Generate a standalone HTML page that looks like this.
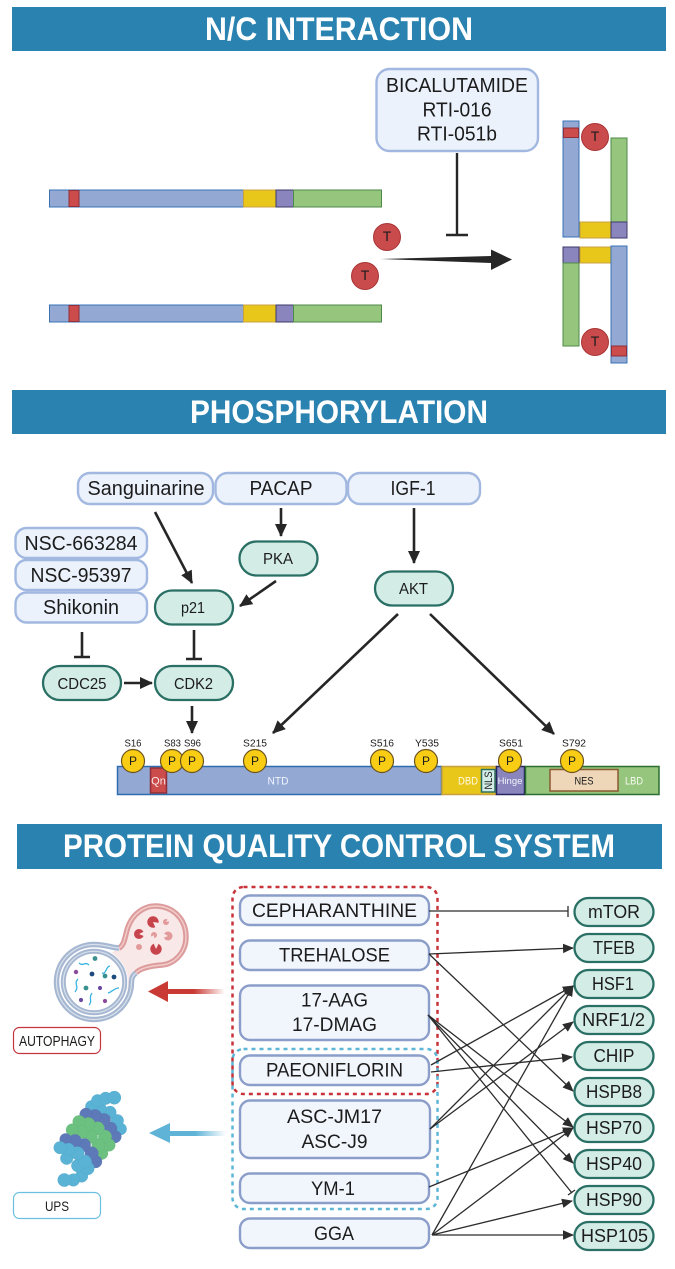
<!DOCTYPE html>
<html>
<head>
<meta charset="utf-8">
<style>
html,body{margin:0;padding:0;background:#fff}
svg{display:block}
text{font-family:"Liberation Sans",sans-serif;fill:#1c1c1c;text-anchor:middle}
.h{font-weight:bold;font-size:32px;fill:#fff}
.b{fill:#ebf2fc;stroke:#a2b8e0;stroke-width:2.400}
.c{fill:#f1f5fc;stroke:#8b9dc9;stroke-width:2.400}
.p{fill:#d3ece6;stroke:#2a6f64;stroke-width:2.300}
.l{stroke:#262626;stroke-width:2.600;fill:none}
.n{stroke:#2c2c2c;stroke-width:1.300;fill:none}
.pc{fill:#f8cd14;stroke:#6b5320;stroke-width:1.200}
.tc{fill:#c94b4b;stroke:#a83434;stroke-width:1}
.t{fill:#5ab2d4;stroke:#4a9fc4;stroke-width:.6}
.d{fill:#5e79b8;stroke:#4e68a8;stroke-width:.6}
.g{fill:#6cc080;stroke:#5cb070;stroke-width:.6}
</style>
</head>
<body>
<svg width="675" height="1269" viewBox="0 0 675 1269" xmlns="http://www.w3.org/2000/svg">
<defs>
<marker id="a" markerUnits="userSpaceOnUse" markerWidth="14" markerHeight="14" refX="12" refY="7" orient="auto"><path d="M0 1L13 7L0 13Z" fill="#262626"/></marker>
<marker id="s" markerUnits="userSpaceOnUse" markerWidth="12" markerHeight="11" refX="10" refY="5.500" orient="auto"><path d="M0 .8L11 5.500L0 10.200Z" fill="#2c2c2c"/></marker>
<linearGradient id="rg" x1="0" x2="1" y1="0" y2="0"><stop offset="0" stop-color="#c83a33"/><stop offset=".45" stop-color="#c83a33"/><stop offset="1" stop-color="#c83a33" stop-opacity="0"/></linearGradient>
<linearGradient id="bg" x1="0" x2="1" y1="0" y2="0"><stop offset="0" stop-color="#5fb3d6"/><stop offset=".45" stop-color="#5fb3d6"/><stop offset="1" stop-color="#5fb3d6" stop-opacity="0"/></linearGradient>
</defs>

<!-- Headers -->
<rect x="12" y="7" width="654" height="44" fill="#2a82b0"/>
<text class="h" x="339" y="40" textLength="268" lengthAdjust="spacingAndGlyphs">N/C INTERACTION</text>
<rect x="12" y="390" width="654" height="44" fill="#2a82b0"/>
<text class="h" x="339" y="423" textLength="298" lengthAdjust="spacingAndGlyphs">PHOSPHORYLATION</text>
<rect x="17" y="824" width="645" height="45" fill="#2a82b0"/>
<text class="h" x="339" y="857" textLength="552" lengthAdjust="spacingAndGlyphs">PROTEIN QUALITY CONTROL SYSTEM</text>

<!-- N/C bars -->
<g stroke-width="1">
<rect x="49.500" y="190" width="194" height="17" fill="#93a9d4" stroke="#3a72b4"/>
<rect x="69" y="190.500" width="10" height="16" fill="#cc4b4b" stroke="#8e2f3a"/>
<rect x="243.500" y="190" width="33" height="17" fill="#e8c61a" stroke="#c8a040"/>
<rect x="276" y="190" width="17.500" height="17" fill="#8a86bd" stroke="#3d3a6a"/>
<rect x="293.500" y="190" width="88" height="17" fill="#96c57e" stroke="#4d8a48"/>
<rect x="49.500" y="305" width="194" height="17" fill="#93a9d4" stroke="#3a72b4"/>
<rect x="69" y="305.500" width="10" height="16" fill="#cc4b4b" stroke="#8e2f3a"/>
<rect x="243.500" y="305" width="33" height="17" fill="#e8c61a" stroke="#c8a040"/>
<rect x="276" y="305" width="17.500" height="17" fill="#8a86bd" stroke="#3d3a6a"/>
<rect x="293.500" y="305" width="88" height="17" fill="#96c57e" stroke="#4d8a48"/>
<!-- right upper -->
<rect x="563" y="121" width="16" height="116" fill="#93a9d4" stroke="#3a72b4"/>
<rect x="563.500" y="128" width="15" height="9.500" fill="#cc4b4b" stroke="#8e2f3a"/>
<rect x="611" y="138" width="16" height="84" fill="#96c57e" stroke="#4d8a48"/>
<rect x="580" y="222" width="31" height="16" fill="#e8c61a" stroke="#c8a040"/>
<rect x="611" y="222" width="16" height="16" fill="#8a86bd" stroke="#3d3a6a"/>
<!-- right lower -->
<rect x="563" y="247" width="16" height="16" fill="#8a86bd" stroke="#3d3a6a"/>
<rect x="580" y="247" width="31" height="16" fill="#e8c61a" stroke="#c8a040"/>
<rect x="611" y="246" width="16" height="117" fill="#93a9d4" stroke="#3a72b4"/>
<rect x="563" y="263" width="16" height="83" fill="#96c57e" stroke="#4d8a48"/>
<rect x="611.500" y="346" width="15" height="10" fill="#cc4b4b" stroke="#8e2f3a"/>
</g>
<rect class="b" x="376.500" y="69" width="161.500" height="82" rx="13"/>
<text x="457" y="92" font-size="20" textLength="142" lengthAdjust="spacingAndGlyphs">BICALUTAMIDE</text>
<text x="457" y="116.500" font-size="20" textLength="69" lengthAdjust="spacingAndGlyphs">RTI-016</text>
<text x="457" y="140.500" font-size="20" textLength="80" lengthAdjust="spacingAndGlyphs">RTI-051b</text>
<path d="M457 153V235M446 235H468" stroke="#262626" stroke-width="2.400" fill="none"/>
<path d="M380 259L491 256V249.500L512 259.500L491 270V263Z" fill="#262626"/>
<g font-size="14">
<circle class="tc" cx="387" cy="237" r="13.500"/><text x="387" y="241">T</text>
<circle class="tc" cx="365" cy="276" r="13.500"/><text x="365" y="280">T</text>
<circle class="tc" cx="595" cy="137" r="13.500"/><text x="595" y="141">T</text>
<circle class="tc" cx="595" cy="342" r="13.500"/><text x="595" y="346">T</text>
</g>

<!-- Phosphorylation boxes -->
<rect class="b" x="78" y="473" width="135" height="31" rx="12"/>
<text x="146" y="495" font-size="20" textLength="117" lengthAdjust="spacingAndGlyphs">Sanguinarine</text>
<rect class="b" x="215.500" y="473" width="131" height="31" rx="12"/>
<text x="281" y="495" font-size="20" textLength="63" lengthAdjust="spacingAndGlyphs">PACAP</text>
<rect class="b" x="348" y="473" width="132" height="31" rx="12"/>
<text x="413" y="495" font-size="20" textLength="45" lengthAdjust="spacingAndGlyphs">IGF-1</text>
<rect class="b" x="15.500" y="528" width="131.500" height="30" rx="11"/>
<text x="81" y="550" font-size="20" textLength="113" lengthAdjust="spacingAndGlyphs">NSC-663284</text>
<rect class="b" x="15.500" y="560" width="131.500" height="30" rx="11"/>
<text x="81" y="582" font-size="20" textLength="101" lengthAdjust="spacingAndGlyphs">NSC-95397</text>
<rect class="b" x="15.500" y="592.500" width="131.500" height="30" rx="11"/>
<text x="81" y="614" font-size="20" textLength="76" lengthAdjust="spacingAndGlyphs">Shikonin</text>

<rect class="p" x="239.500" y="541.500" width="78" height="34" rx="17"/>
<text x="278" y="564" font-size="16" textLength="30" lengthAdjust="spacingAndGlyphs">PKA</text>
<rect class="p" x="155" y="590.500" width="78" height="34" rx="17"/>
<text x="193" y="613" font-size="16" textLength="24" lengthAdjust="spacingAndGlyphs">p21</text>
<rect class="p" x="43" y="666" width="78" height="34" rx="17"/>
<text x="82" y="689" font-size="16" textLength="49" lengthAdjust="spacingAndGlyphs">CDC25</text>
<rect class="p" x="155" y="666" width="78" height="34" rx="17"/>
<text x="193.500" y="689" font-size="16" textLength="39" lengthAdjust="spacingAndGlyphs">CDK2</text>
<rect class="p" x="375" y="571.500" width="78" height="34" rx="17"/>
<text x="413.500" y="594" font-size="16" textLength="29" lengthAdjust="spacingAndGlyphs">AKT</text>

<!-- Phosphorylation arrows -->
<line class="l" x1="155" y1="512" x2="192" y2="583" marker-end="url(#a)"/>
<line class="l" x1="281" y1="508" x2="281" y2="536" marker-end="url(#a)"/>
<line class="l" x1="276" y1="581" x2="240" y2="606" marker-end="url(#a)"/>
<line class="l" x1="124" y1="683" x2="152" y2="683" marker-end="url(#a)"/>
<line class="l" x1="192" y1="706" x2="192" y2="733" marker-end="url(#a)"/>
<line class="l" x1="414" y1="508" x2="414" y2="563" marker-end="url(#a)"/>
<line class="l" x1="398" y1="614" x2="273" y2="733" marker-end="url(#a)"/>
<line class="l" x1="430" y1="614" x2="554" y2="734" marker-end="url(#a)"/>
<path class="l" d="M82 632V657M74 657H90M194 630V659M186 659H202"/>

<!-- AR domain bar -->
<g stroke-width="1.500">
<rect x="117.500" y="766.500" width="324" height="28" fill="#93a9d4" stroke="#2c6db0"/>
<rect x="150.500" y="768" width="16" height="25" fill="#cc4b4b" stroke="#8e2f3a"/>
<rect x="442" y="766.500" width="54" height="28" fill="#e8c61a" stroke="#c8a040"/>
<rect x="481.500" y="769.500" width="13.500" height="22.500" fill="#d3ece6" stroke="#2a6f64"/>
<rect x="496.500" y="766.500" width="28" height="28" fill="#8a86bd" stroke="#252560"/>
<rect x="525.500" y="766.500" width="133.500" height="28" fill="#96c57e" stroke="#2c6e30"/>
<rect x="550" y="769.500" width="68" height="21.500" fill="#edd7b8" stroke="#8a5a30"/>
</g>
<g font-size="11">
<text x="158.500" y="784.500" style="fill:#fbeaea">Qn</text>
<text x="278" y="784.500" style="fill:#f2f5ff" textLength="21" lengthAdjust="spacingAndGlyphs">NTD</text>
<text x="468" y="784.500" style="fill:#fffbe6" textLength="20" lengthAdjust="spacingAndGlyphs">DBD</text>
<text x="510" y="784" style="fill:#f2f2fb" font-size="9.500">Hinge</text>
<text x="584" y="784.500" textLength="19" lengthAdjust="spacingAndGlyphs">NES</text>
<text x="634" y="784.500" style="fill:#f6fbef" textLength="18" lengthAdjust="spacingAndGlyphs">LBD</text>
<text transform="translate(492 780.500) rotate(-90)" font-size="11" textLength="18" lengthAdjust="spacingAndGlyphs">NLS</text>
</g>
<g font-size="10">
<text x="133" y="746.500" textLength="17" lengthAdjust="spacingAndGlyphs">S16</text>
<text x="172.500" y="746.500" textLength="17" lengthAdjust="spacingAndGlyphs">S83</text>
<text x="192.500" y="746.500" textLength="17" lengthAdjust="spacingAndGlyphs">S96</text>
<text x="255" y="746.500" textLength="24" lengthAdjust="spacingAndGlyphs">S215</text>
<text x="382" y="746.500" textLength="24" lengthAdjust="spacingAndGlyphs">S516</text>
<text x="427" y="746.500" textLength="24" lengthAdjust="spacingAndGlyphs">Y535</text>
<text x="511" y="746.500" textLength="24" lengthAdjust="spacingAndGlyphs">S651</text>
<text x="574" y="746.500" textLength="24" lengthAdjust="spacingAndGlyphs">S792</text>
</g>
<g font-size="12">
<circle class="pc" cx="133" cy="761" r="11.500"/><text x="133" y="765">P</text>
<circle class="pc" cx="172" cy="761" r="11.500"/><text x="172" y="765">P</text>
<circle class="pc" cx="192" cy="761" r="11.500"/><text x="192" y="765">P</text>
<circle class="pc" cx="255" cy="761" r="11.500"/><text x="255" y="765">P</text>
<circle class="pc" cx="382" cy="761" r="11.500"/><text x="382" y="765">P</text>
<circle class="pc" cx="426" cy="761" r="11.500"/><text x="426" y="765">P</text>
<circle class="pc" cx="510" cy="761" r="11.500"/><text x="510" y="765">P</text>
<circle class="pc" cx="572" cy="761" r="11.500"/><text x="572" y="765">P</text>
</g>

<!-- PQC section: compound boxes -->
<rect class="c" x="240" y="895.500" width="189" height="29.500" rx="10"/>
<text x="334.500" y="917" font-size="19.500" textLength="165" lengthAdjust="spacingAndGlyphs">CEPHARANTHINE</text>
<rect class="c" x="240" y="940.500" width="189" height="29.500" rx="10"/>
<text x="334.500" y="961.500" font-size="19.500" textLength="111" lengthAdjust="spacingAndGlyphs">TREHALOSE</text>
<rect class="c" x="240" y="985.500" width="189" height="54.500" rx="10"/>
<text x="334.500" y="1006.500" font-size="19.500" textLength="67" lengthAdjust="spacingAndGlyphs">17-AAG</text>
<text x="334.500" y="1031" font-size="19.500" textLength="85" lengthAdjust="spacingAndGlyphs">17-DMAG</text>
<rect class="c" x="240" y="1055.500" width="189" height="29.500" rx="10"/>
<text x="334.500" y="1076.500" font-size="19.500" textLength="137" lengthAdjust="spacingAndGlyphs">PAEONIFLORIN</text>
<rect class="c" x="240" y="1100.500" width="190" height="57.500" rx="10"/>
<text x="334.500" y="1123" font-size="19.500" textLength="95" lengthAdjust="spacingAndGlyphs">ASC-JM17</text>
<text x="334.500" y="1148" font-size="19.500" textLength="66" lengthAdjust="spacingAndGlyphs">ASC-J9</text>
<rect class="c" x="240" y="1173.500" width="189" height="29.500" rx="10"/>
<text x="333" y="1195" font-size="19.500" textLength="44" lengthAdjust="spacingAndGlyphs">YM-1</text>
<rect class="c" x="240" y="1218.500" width="189" height="29.500" rx="10"/>
<text x="334" y="1240" font-size="19.500" textLength="40" lengthAdjust="spacingAndGlyphs">GGA</text>

<rect x="232.500" y="887" width="205" height="207" rx="11" fill="none" stroke="#c8333a" stroke-width="2.500" stroke-dasharray="4 4"/>
<rect x="232.500" y="1049" width="205" height="160" rx="11" fill="none" stroke="#5cb6d8" stroke-width="2.500" stroke-dasharray="4 4"/>

<!-- PQC connectors -->
<path class="n" d="M429 911H568M568 906V917"/>
<line class="n" x1="429" y1="954" x2="573" y2="948" marker-end="url(#s)"/>
<line class="n" x1="429" y1="954" x2="573" y2="1091" marker-end="url(#s)"/>
<line class="n" x1="428" y1="1015" x2="573" y2="1127" marker-end="url(#s)"/>
<line class="n" x1="428" y1="1015" x2="573" y2="1163" marker-end="url(#s)"/>
<line class="n" x1="428" y1="1015" x2="572" y2="1193"/>
<line class="n" x1="568" y1="1195" x2="575" y2="1190"/>
<line class="n" x1="431" y1="1065" x2="573" y2="986" marker-end="url(#s)"/>
<line class="n" x1="431" y1="1072" x2="572" y2="1057" marker-end="url(#s)"/>
<line class="n" x1="430" y1="1129" x2="573" y2="986" marker-end="url(#s)"/>
<line class="n" x1="430" y1="1129" x2="573" y2="1022" marker-end="url(#s)"/>
<line class="n" x1="429" y1="1187" x2="573" y2="1128" marker-end="url(#s)"/>
<line class="n" x1="432" y1="1235" x2="573" y2="986" marker-end="url(#s)"/>
<line class="n" x1="432" y1="1235" x2="573" y2="1128" marker-end="url(#s)"/>
<line class="n" x1="432" y1="1235" x2="572" y2="1201" marker-end="url(#s)"/>
<line class="n" x1="432" y1="1235" x2="573" y2="1235" marker-end="url(#s)"/>

<!-- Target pills -->
<g font-size="18.500">
<rect class="p" x="574.500" y="898" width="79" height="28" rx="14"/><text x="614" y="918" textLength="52" lengthAdjust="spacingAndGlyphs">mTOR</text>
<rect class="p" x="574.500" y="934" width="79" height="28" rx="14"/><text x="614" y="954" textLength="42" lengthAdjust="spacingAndGlyphs">TFEB</text>
<rect class="p" x="574.500" y="970" width="79" height="28" rx="14"/><text x="613" y="990" textLength="42" lengthAdjust="spacingAndGlyphs">HSF1</text>
<rect class="p" x="574.500" y="1006" width="79" height="28" rx="14"/><text x="613.500" y="1026" textLength="63" lengthAdjust="spacingAndGlyphs">NRF1/2</text>
<rect class="p" x="574.500" y="1042" width="79" height="28" rx="14"/><text x="614" y="1062" textLength="41" lengthAdjust="spacingAndGlyphs">CHIP</text>
<rect class="p" x="574.500" y="1078" width="79" height="28" rx="14"/><text x="614" y="1098" textLength="56" lengthAdjust="spacingAndGlyphs">HSPB8</text>
<rect class="p" x="574.500" y="1114" width="79" height="28" rx="14"/><text x="614" y="1134" textLength="56" lengthAdjust="spacingAndGlyphs">HSP70</text>
<rect class="p" x="574.500" y="1150" width="79" height="28" rx="14"/><text x="614" y="1170" textLength="56" lengthAdjust="spacingAndGlyphs">HSP40</text>
<rect class="p" x="574.500" y="1186" width="79" height="28" rx="14"/><text x="614" y="1206" textLength="56" lengthAdjust="spacingAndGlyphs">HSP90</text>
<rect class="p" x="574.500" y="1222" width="79" height="28" rx="14"/><text x="614.500" y="1242" textLength="67" lengthAdjust="spacingAndGlyphs">HSP105</text>
</g>

<!-- Left arrows -->
<rect x="168" y="989" width="57" height="5" fill="url(#rg)"/>
<path d="M148 991.500L168 981V1002Z" fill="#c83a33"/>
<rect x="170" y="1131" width="56" height="5" fill="url(#bg)"/>
<path d="M149 1133L170 1123V1143Z" fill="#5fb3d6"/>

<!-- Autophagy illustration -->
<path d="M119 948C125 945 125 935 128 927C133 913 145 906 155 906C173 906 186 919 186 937C186 953 174 964 162 965C150 966 140 968 136 973L128 990L100 960Z" fill="#f8e8e8"/>
<path d="M119 948C125 945 125 935 128 927C133 913 145 906 155 906C173 906 186 919 186 937C186 953 174 964 162 965C150 966 140 968 136 973" fill="none" stroke="#dd9c9c" stroke-width="5.500"/>
<path d="M119 948C125 945 125 935 128 927C133 913 145 906 155 906C173 906 186 919 186 937C186 953 174 964 162 965C150 966 140 968 136 973" fill="none" stroke="#f3cccc" stroke-width="1.400"/>
<circle cx="94" cy="982" r="28" fill="#f2f9fd"/>
<circle cx="94" cy="982" r="34" fill="#fff"/>
<path d="M119 948C112 948 106 944.500 94 944.500A37.500 37.500 0 1 0 131.500 982C131.500 978 133 975 136 973" fill="none" stroke="#a6b7d1" stroke-width="5.500"/>
<path d="M119 948C112 948 106 944.500 94 944.500A37.500 37.500 0 1 0 131.500 982C131.500 978 133 975 136 973" fill="none" stroke="#d8e0ec" stroke-width="1.200"/>
<circle cx="94" cy="982" r="30.700" fill="none" stroke="#a6b7d1" stroke-width="5"/>
<circle cx="94" cy="982" r="30.700" fill="none" stroke="#d8e0ec" stroke-width="1.200"/>
<!-- lysosome enzymes -->
<g fill="#c8444c">
<circle cx="153" cy="922" r="5.700"/><circle cx="139" cy="934" r="5"/><circle cx="156" cy="949" r="5.700"/>
</g>
<g fill="#e39a9a">
<circle cx="166" cy="922" r="3"/><circle cx="168" cy="936" r="4.500"/><circle cx="154" cy="935" r="3"/><circle cx="139" cy="947" r="3"/>
</g>
<g fill="#f8e8e8">
<path d="M153 922L160 923L156 929Z"/>
<path d="M139 934L146 930.500L146 937Z"/>
<path d="M156 949L153 942L159.500 942Z"/>
<path d="M166 922L168 918.500L170 921Z"/>
<path d="M168 936L163 933L163 938Z"/>
<path d="M154 935L151 937L154 938.500Z"/>
</g>
<g fill="none" stroke="#3ab4e0" stroke-width="1.300">
<path d="M79 963C83 967 85 961 89 965"/>
<path d="M102 973C106 975 106 966 110 966"/>
<path d="M78 979C73 984 80 986 75 992"/>
<path d="M92 993C88 998 93 1001 89 1005"/>
<path d="M108 993C112 992 114 988 119 988"/>
</g>
<g>
<circle cx="95" cy="958.500" r="2.400" fill="#3a9090"/>
<circle cx="76" cy="972" r="2.200" fill="#8a4a9a"/>
<circle cx="92" cy="974" r="2.400" fill="#1c4a80"/>
<circle cx="105" cy="976" r="2.400" fill="#3a9090"/>
<circle cx="114" cy="977" r="2.400" fill="#1c4a80"/>
<circle cx="86" cy="988" r="2.400" fill="#3a9090"/>
<circle cx="100" cy="988" r="2.100" fill="#6a4aa0"/>
<circle cx="81" cy="1000" r="2.100" fill="#6a4aa0"/>
<circle cx="105" cy="1001" r="2.100" fill="#8a4a9a"/>
</g>
<rect x="13.500" y="1027.500" width="87" height="26" rx="6" fill="#fff" stroke="#c4373d" stroke-width="1.200"/>
<text x="57" y="1046" font-size="14.500" textLength="76" lengthAdjust="spacingAndGlyphs">AUTOPHAGY</text>

<!-- Proteasome illustration (zoom coordinates / 3) -->
<g transform="translate(30 1080) scale(.3333)">
<circle class="t" cx="272" cy="147" r="18"/><circle class="t" cx="262" cy="122" r="19"/><circle class="t" cx="240" cy="97" r="19"/><circle class="t" cx="210" cy="85" r="19"/><circle class="t" cx="185" cy="80" r="19"/><circle class="t" cx="203" cy="62" r="19"/><circle class="t" cx="227" cy="55" r="19"/><circle class="t" cx="253" cy="53" r="20"/>
<circle class="d" cx="255" cy="170" r="19"/><circle class="d" cx="242" cy="145" r="19"/><circle class="d" cx="222" cy="120" r="20"/><circle class="d" cx="195" cy="108" r="20"/><circle class="d" cx="168" cy="103" r="19"/>
<circle class="g" cx="215" cy="220" r="19"/><circle class="g" cx="237" cy="195" r="19"/><circle class="g" cx="225" cy="170" r="20"/><circle class="g" cx="203" cy="145" r="20"/><circle class="g" cx="175" cy="132" r="20"/><circle class="g" cx="147" cy="125" r="19"/><circle class="g" cx="205" cy="195" r="20"/><circle class="g" cx="183" cy="170" r="20"/><circle class="g" cx="155" cy="155" r="20"/><circle class="g" cx="127" cy="150" r="19"/>
<circle class="d" cx="197" cy="245" r="19"/><circle class="d" cx="185" cy="220" r="20"/><circle class="d" cx="162" cy="195" r="20"/><circle class="d" cx="135" cy="182" r="19"/><circle class="d" cx="107" cy="178" r="18"/>
<circle class="t" cx="155" cy="288" r="19"/><circle class="t" cx="173" cy="265" r="20"/><circle class="t" cx="143" cy="257" r="19"/><circle class="t" cx="165" cy="245" r="20"/><circle class="t" cx="110" cy="235" r="19"/><circle class="t" cx="143" cy="220" r="20"/><circle class="t" cx="115" cy="208" r="19"/><circle class="t" cx="90" cy="203" r="19"/><circle class="t" cx="130" cy="300" r="19"/><circle class="t" cx="103" cy="300" r="20"/>
</g>
<rect x="13.500" y="1192.500" width="87" height="26" rx="6" fill="#fff" stroke="#6bbfe0" stroke-width="1.200"/>
<text x="57" y="1211" font-size="14" textLength="24" lengthAdjust="spacingAndGlyphs">UPS</text>
</svg>
</body>
</html>
